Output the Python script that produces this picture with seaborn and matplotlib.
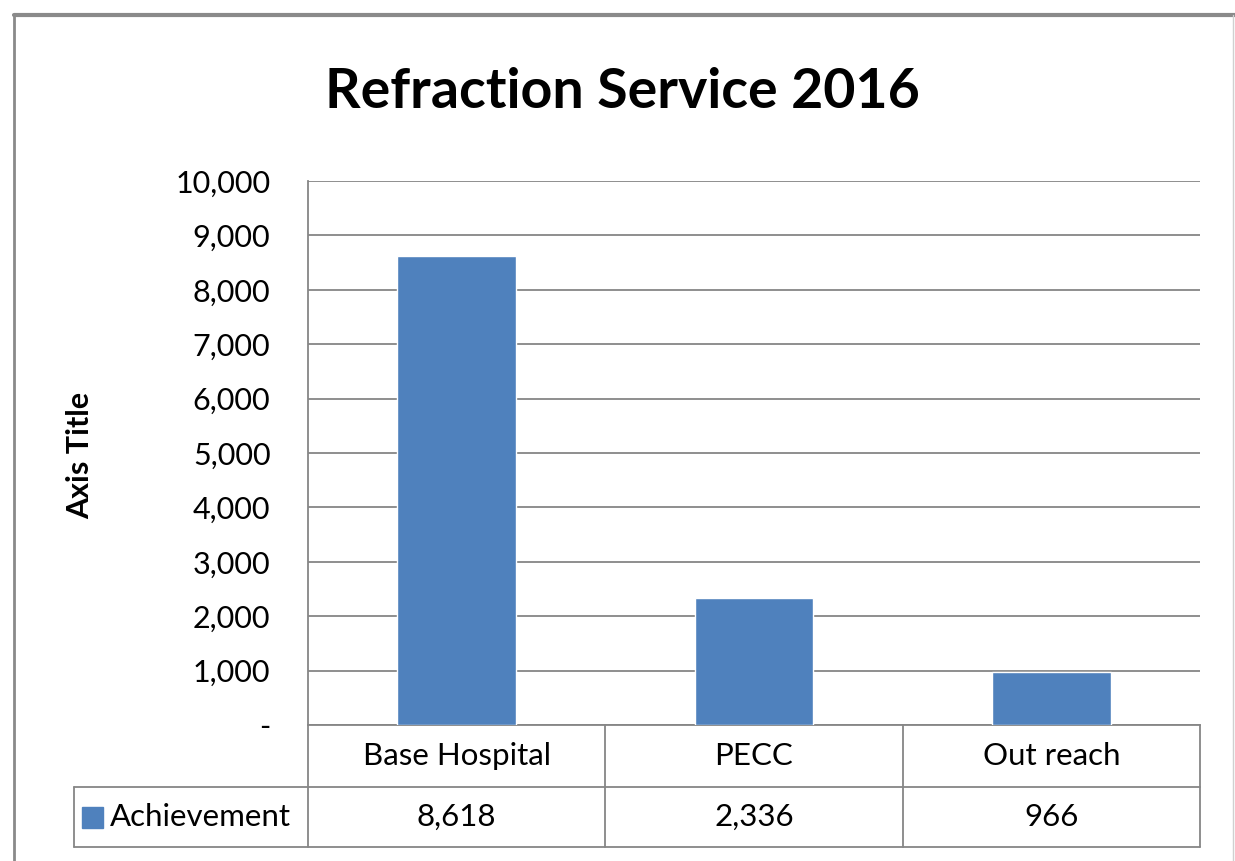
import matplotlib
matplotlib.use("Agg")
import matplotlib.pyplot as plt
from matplotlib.lines import Line2D
from matplotlib.patches import Rectangle
import matplotlib.transforms as mtransforms
import seaborn as sns
import pandas as pd

categories = ["Base Hospital", "PECC", "Out reach"]
values = [8618, 2336, 966]
value_labels = ["8,618", "2,336", "966"]
series_name = "Achievement"
yticks = [0, 1000, 2000, 3000, 4000, 5000, 6000, 7000, 8000, 9000, 10000]
ytick_labels = ["-", "1,000", "2,000", "3,000", "4,000", "5,000", "6,000",
                "7,000", "8,000", "9,000", "10,000"]

BAR = "#4F81BD"
GRID = "#868686"
TXT = "black"

sns.set_theme(style="white")
plt.rcParams["font.family"] = ["Lato", "DejaVu Sans"]
plt.rcParams["text.color"] = TXT
plt.rcParams["ytick.color"] = TXT
plt.rcParams["ytick.labelcolor"] = TXT

W, H = 1235, 861
fig = plt.figure(figsize=(W / 100, H / 100), dpi=100)
fig.patch.set_facecolor("white")

def fx(px):
    return px / W

def fy(py):
    return 1 - py / H

ax = fig.add_axes([fx(308), fy(725), fx(1200) - fx(308), fy(181) - fy(725)])
df = pd.DataFrame({"cat": categories, "val": values})
sns.barplot(data=df, x="cat", y="val", color=BAR, width=0.4, saturation=1,
            ax=ax, zorder=3)
ax.set_xlim(-0.5, 2.5)
ax.set_ylim(0, 10000)
ax.set_yticks(yticks)
ax.set_yticklabels(ytick_labels, fontsize=22, color=TXT)
ax.tick_params(axis="y", length=0, pad=27)
ax.set_xticks([])
ax.set_xlabel("")
ax.set_ylabel("")
ax.yaxis.grid(True, color=GRID, lw=1.3, zorder=0)
ax.set_axisbelow(True)
for s in ["top", "right"]:
    ax.spines[s].set_visible(False)
for s in ["left", "bottom"]:
    ax.spines[s].set_color(GRID)
    ax.spines[s].set_linewidth(1.3)

# data table below the axes
trans = mtransforms.blended_transform_factory(ax.transData, ax.transAxes)
axh = 725 - 181
def ay(py):
    return -(py - 725) / axh

left_x = -0.5 - (308 - 74) / ((1200 - 308) / 3)
lkw = dict(color=GRID, lw=1.3, transform=trans, clip_on=False)
for yy in [787, 847]:
    ax.add_line(Line2D([left_x, 2.5], [ay(yy), ay(yy)], **lkw))
for xx in [-0.5, 0.5, 1.5, 2.5]:
    ax.add_line(Line2D([xx, xx], [ay(725), ay(847)], **lkw))
ax.add_line(Line2D([left_x, left_x], [ay(787), ay(847)], **lkw))

for i, (c, v) in enumerate(zip(categories, value_labels)):
    ax.text(i, ay(756), c, ha="center", va="center", fontsize=22.5,
            color=TXT, transform=trans, clip_on=False)
    ax.text(i, ay(817), v, ha="center", va="center", fontsize=22.5,
            color=TXT, transform=trans, clip_on=False)

# legend key + series name
fig.add_artist(Rectangle((fx(82), fy(828)), fx(103) - fx(82), fy(807) - fy(828),
                         transform=fig.transFigure, color=BAR))
fig.text(fx(110), fy(817), series_name, ha="left", va="center", fontsize=22.5,
         color=TXT)

# titles
fig.text(fx(622), fy(92), "Refraction Service 2016", ha="center", va="center",
         fontsize=40, fontweight="bold", color=TXT)
fig.text(fx(80), fy(455), "Axis Title", ha="center", va="center",
         fontsize=22, fontweight="bold", rotation=90, color=TXT)

# chart frame
fig.add_artist(Line2D([fx(14), fx(1235)], [fy(15), fy(15)], color="#8a8a8a",
                      lw=3, transform=fig.transFigure))
fig.add_artist(Line2D([fx(14), fx(14)], [fy(15), fy(861)], color="#8a8a8a",
                      lw=2, transform=fig.transFigure))
fig.add_artist(Line2D([fx(1233), fx(1233)], [fy(15), fy(861)], color="#d0d0d0",
                      lw=1, transform=fig.transFigure))

fig.savefig("out.png", dpi=100, facecolor="white")
